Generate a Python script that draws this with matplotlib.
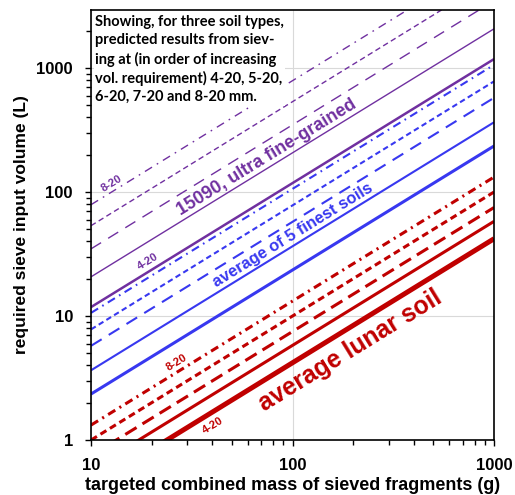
import numpy as np
import matplotlib.pyplot as plt

# sieve size ranges (mm)
sieves = ["4-20", "5-20", "6-20", "7-20", "8-20"]

# volume per gram of sieved fragments (L/g)
ultra_fine = [1.18, 2.07, 3.48, 5.35, 7.9]
finest5 = [0.235, 0.365, 0.575, 0.78, 1.06]
lunar = [0.042, 0.058, 0.075, 0.10, 0.132]

mass = np.array([10.0, 1000.0])

plt.rcParams['lines.scale_dashes'] = False
plt.rcParams['font.family'] = ['Liberation Sans', 'DejaVu Sans']

purple = '#7030A0'
blue = '#3838F0'
red = '#C00000'

fig = plt.figure(figsize=(5.15, 4.95), dpi=100)
ax = fig.add_axes([0.1767, 0.111, 0.7826, 0.869])

def draw_set(coefs, color, lw_thick, lw, dash_long, dash_short, dash_dot):
    styles = [(0, ()), (0, ()), (0, dash_long), (0, dash_short), (0, dash_dot)]
    for i in range(0, len(coefs)):
        w = lw_thick if i == 0 else lw
        ax.plot(mass, coefs[i] * mass, color=color, lw=w, linestyle=styles[i],
                solid_capstyle='butt', dash_capstyle='butt')

draw_set(ultra_fine, purple, 1.8, 1.0, (8.5, 6), (4, 2.5), (6, 4, 1.2, 4))
draw_set(finest5, blue, 2.2, 1.5, (9, 6), (4, 2.5), (6, 3.5, 1.2, 3.5))
draw_set(lunar, red, 3.6, 2.2, (9.5, 5), (5, 3), (6, 3.5, 1.5, 3.5))

ax.set_xscale('log')
ax.set_yscale('log')
ax.set_xlim(10, 1000)
ax.set_ylim(1, 2940)

ax.grid(True, which='major', color='#d9d9d9', lw=0.8)
ax.set_axisbelow(True)

ax.set_xticks([10, 100, 1000])
ax.set_xticklabels(["10", "100", "1000"])
ax.set_yticks([1, 10, 100, 1000])
ax.set_yticklabels(["1", "10", "100", "1000"])
ax.tick_params(which='major', length=4, width=1, labelsize=12, pad=9)
ax.tick_params(which='minor', length=3.5, width=1)
for lab in ax.get_xticklabels() + ax.get_yticklabels():
    lab.set_fontweight('bold')
for s in ax.spines.values():
    s.set_linewidth(1.2)

ax.set_xlabel("targeted combined mass of sieved fragments (g)", fontsize=13,
              fontweight='bold', labelpad=3)
ax.set_ylabel("required sieve input volume (L)", fontsize=12.5,
              fontweight='bold', labelpad=5)

ang = 31.6
ax.text(75, 190, "15090, ultra fine-grained", color=purple, fontsize=13,
        fontweight='bold', rotation=ang, ha='center', va='center')
ax.text(100, 45, "average of 5 finest soils", color=blue, fontsize=11.8,
        fontweight='bold', rotation=ang, ha='center', va='center')
ax.text(193, 5.3, "average lunar soil", color=red, fontsize=17.8,
        fontweight='bold', rotation=ang, ha='center', va='center')
ax.text(12.7, 118, "8-20", color=purple, fontsize=8, fontweight='bold',
        rotation=ang, ha='center', va='center')
ax.text(19.2, 27.3, "4-20", color=purple, fontsize=8, fontweight='bold',
        rotation=ang, ha='center', va='center')
ax.text(26.7, 4.2, "8-20", color=red, fontsize=8, fontweight='bold',
        rotation=ang, ha='center', va='center')
ax.text(40.3, 1.32, "4-20", color=red, fontsize=8, fontweight='bold',
        rotation=ang, ha='center', va='center')

ax.text(0.01, 0.988, "Showing, for three soil types,\npredicted results from siev-\n"
        "ing at (in order of increasing\nvol. requirement) 4-20, 5-20,\n"
        "6-20, 7-20 and 8-20 mm.", transform=ax.transAxes, fontsize=10.5,
        fontweight='bold', family=['Lato', 'DejaVu Sans'], va='top', ha='left',
        linespacing=1.37, bbox=dict(facecolor='white', edgecolor='none', pad=1))

fig.savefig('out.png', dpi=100)
